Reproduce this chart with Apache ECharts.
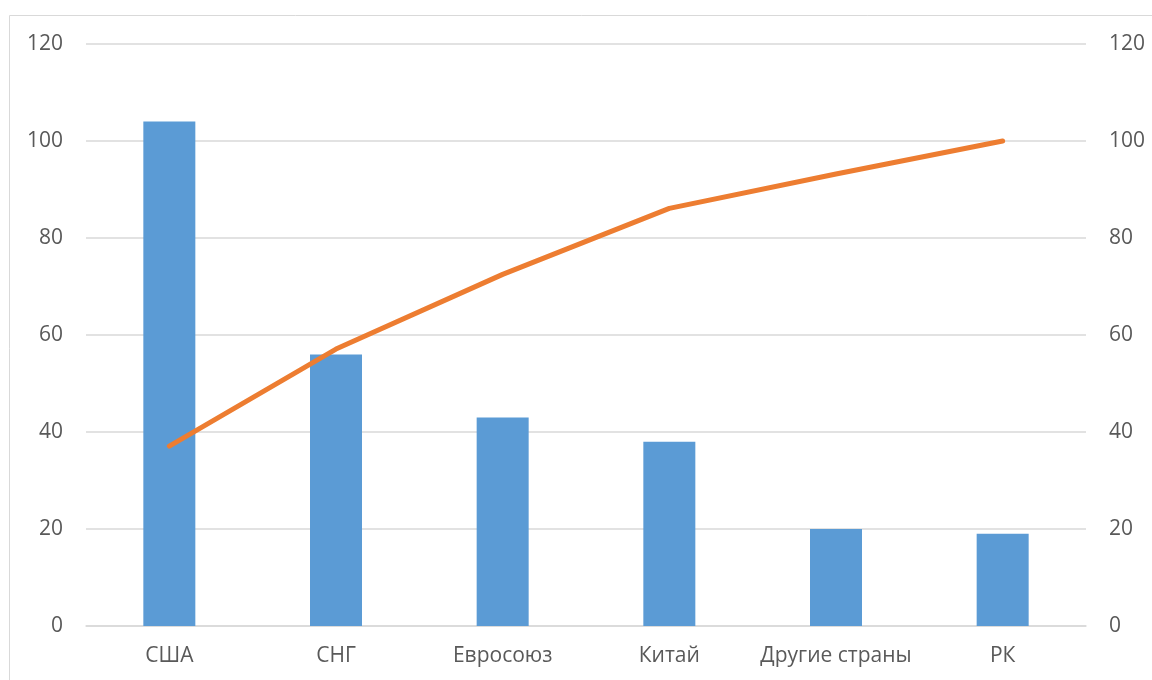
<!DOCTYPE html>
<html>
<head>
<meta charset="utf-8">
<script src="https://cdn.jsdelivr.net/npm/echarts@6/dist/echarts.min.js"></script>
<style>
  html, body { margin: 0; padding: 0; background: #fff; }
  #chart { width: 1152px; height: 680px; }
</style>
</head>
<body>
<div id="chart"></div>
<script>
  // данные
  const categories = ['США', 'СНГ', 'Евросоюз', 'Китай', 'Другие страны', 'РК']
  const barValues = [104, 56, 43, 38, 20, 19]
  const lineValues = [37.1, 57.1, 72.5, 86.1, 93.2, 100]

  const textColor = '#595959'
  const fontFamily = '"Open Sans", "Noto Sans", sans-serif'

  const chart = echarts.init(document.getElementById('chart'))
  const options = {
    animation: false,
    // рамка вокруг диаграммы
    graphic: [
      {
        type: 'rect',
        shape: { x: 9.5, y: 15.5, width: 1200, height: 700 },
        style: { fill: 'none', stroke: '#D9D9D9', lineWidth: 1 },
        silent: true,
      },
    ],
    grid: {
      top: 44,
      left: 86,
      right: 66,
      bottom: 54,
      containLabel: false,
    },
    xAxis: {
      type: 'category',
      data: categories,
      axisTick: { show: false },
      axisLine: { lineStyle: { color: '#D9D9D9', width: 1.5 } },
      axisLabel: {
        interval: 0,
        color: textColor,
        fontSize: 21,
        fontFamily: fontFamily,
        margin: 20,
      },
    },
    yAxis: [
      {
        type: 'value',
        min: 0,
        max: 120,
        interval: 20,
        axisLabel: { color: textColor, fontSize: 21, fontFamily: fontFamily, margin: 23 },
        splitLine: { lineStyle: { color: '#D9D9D9', width: 1.5 } },
      },
      {
        type: 'value',
        min: 0,
        max: 120,
        interval: 20,
        position: 'right',
        axisLabel: { color: textColor, fontSize: 21, fontFamily: fontFamily, margin: 23 },
        splitLine: { show: false },
      },
    ],
    series: [
      {
        type: 'bar',
        data: barValues,
        barWidth: 52,
        itemStyle: { color: '#5B9BD5' },
      },
      {
        type: 'line',
        yAxisIndex: 1,
        data: lineValues,
        symbol: 'none',
        lineStyle: { color: '#ED7D31', width: 5, cap: 'round', join: 'round' },
        itemStyle: { color: '#ED7D31' },
      },
    ],
  }
  chart.setOption(options)
</script>
</body>
</html>
